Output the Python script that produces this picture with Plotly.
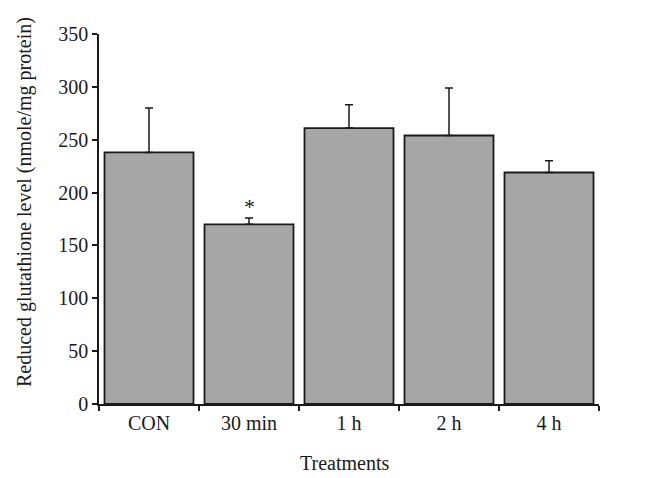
import plotly.graph_objects as go

categories = ["CON", "30 min", "1 h", "2 h", "4 h"]
values = [238, 170, 261, 254, 219]
errors = [42, 6, 22, 45, 11]
significance = ["", "*", "", "", ""]
y_ticks = [0, 50, 100, 150, 200, 250, 300, 350]

font_family = "Liberation Serif, Times New Roman, serif"

fig = go.Figure()
fig.add_trace(go.Bar(
    x=categories, y=values,
    marker=dict(color="#a6a6a6", line=dict(color="#1a1a1a", width=1.8)),
    error_y=dict(type="data", array=errors, symmetric=False, arrayminus=[0]*5,
                 color="#1a1a1a", thickness=1.5, width=4),
    showlegend=False,
))

for c, v, e, s in zip(categories, values, errors, significance):
    if s:
        fig.add_annotation(x=c, y=v + e, text=s, showarrow=False, yanchor="bottom",
                           yshift=-3, font=dict(family=font_family, size=22, color="#1a1a1a"))

fig.add_annotation(
    text="Reduced glutathione level (nmole/mg protein)",
    xref="paper", yref="paper", x=-0.148, y=0.546, textangle=-90,
    showarrow=False, xanchor="center", yanchor="middle",
    font=dict(family=font_family, size=20, color="#1a1a1a"),
)
fig.add_annotation(
    text="Treatments",
    xref="paper", yref="paper", x=0.49, y=-0.125,
    showarrow=False, xanchor="center", yanchor="top",
    font=dict(family=font_family, size=20, color="#1a1a1a"),
)

fig.update_layout(
    width=652, height=470,
    margin=dict(l=91, r=61, t=26, b=74),
    paper_bgcolor="white", plot_bgcolor="white",
    bargap=0.11,
    font=dict(family=font_family, size=20, color="#1a1a1a"),
)
fig.update_xaxes(
    showline=True, linecolor="#1a1a1a", linewidth=1.5,
    ticks="outside", tickson="boundaries", ticklen=5, tickcolor="#1a1a1a", tickwidth=1.5,
    showgrid=False, automargin=False,
)
fig.update_yaxes(
    range=[0, 350], tickvals=y_ticks,
    showline=True, linecolor="#1a1a1a", linewidth=1.5,
    ticks="outside", ticklen=5, tickcolor="#1a1a1a", tickwidth=1.5,
    showgrid=False, zeroline=False, automargin=False,
)

fig.write_html("out.html")
